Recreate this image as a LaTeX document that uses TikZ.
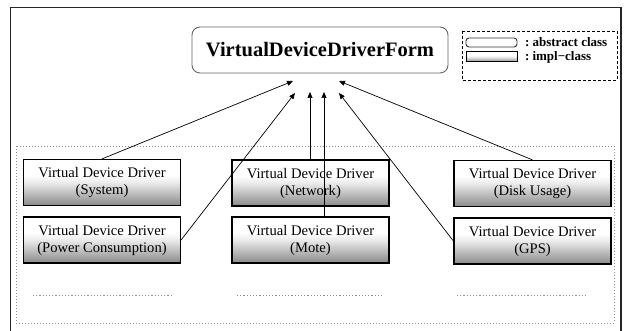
\documentclass[tikz,border=0pt]{standalone}
\usepackage{fontspec}
\setmainfont{Liberation Serif}
\usetikzlibrary{arrows.meta,calc}
\pgfdeclareverticalshading{implshade}{100bp}{color(0bp)=(black!52); color(25bp)=(black!46); color(50bp)=(black!8); color(58bp)=(white); color(100bp)=(white)}
\begin{document}
\begin{tikzpicture}[x=1pt,y=-1pt,
  frame/.style={line width=1.3pt,black!85},
  container/.style={draw=black!45,line width=0.8pt,dash pattern=on 1pt off 2pt},
  filler/.style={draw=black!45,line width=0.8pt,dash pattern=on 1.2pt off 2pt},
  formbox/.style={draw=black!60,line width=0.9pt,rounded corners=8pt,fill=white,
    minimum width=256pt,minimum height=46pt,inner sep=0pt,
    font=\fontsize{20.5}{24}\selectfont\bfseries},
  implbox/.style={draw=black,line width=1.2pt,shading=implshade,
    minimum width=157pt,minimum height=46pt,inner sep=0pt,align=center,
    font=\fontsize{14.6}{17}\selectfont},
  legabs/.style={draw=black!80,line width=0.9pt,rounded corners=3pt,fill=white,
    minimum width=51pt,minimum height=9pt,inner sep=0pt},
  legimpl/.style={draw=black,line width=1pt,shading=implshade,
    minimum width=51pt,minimum height=10pt,inner sep=0pt},
  legtext/.style={anchor=west,inner sep=0pt,font=\fontsize{13}{15}\selectfont\bfseries},
  arr/.style={line width=0.7pt,-{Triangle[length=6pt,width=5pt]}}]
\useasboundingbox (0,0) rectangle (624,331);
\fill[white] (0,0) rectangle (624,331);

% outer frame, open at the bottom
\draw[frame] (10.5,331) -- (10.5,7.5) -- (621,7.5) -- (621,331);

% container of the implementation classes
\draw[container] (16,146) rectangle (614,323);

% abstract class
\node[formbox] (form) at (320,50) {VirtualDeviceDriverForm};

% legend
\draw[line width=0.9pt,dash pattern=on 3pt off 2pt] (462,31) rectangle (617,80);
\node[legabs] (la) at (491.5,42.5) {};
\node[legimpl] (li) at (491.5,57) {};
\node[legtext] (lat) at (525,42.5) {:\hspace{3pt}abstract class};
\node[legtext] (lit) at (525,57) {:\hspace{3pt}impl\textminus class};

% implementation classes
\node[implbox] (sys)  at (102,182.5)   {Virtual Device Driver\\(System)};
\node[implbox] (net)  at (310.5,183)   {Virtual Device Driver\\(Network)};
\node[implbox] (disk) at (532.5,183.5) {Virtual Device Driver\\(Disk Usage)};
\node[implbox] (pow)  at (102,240)     {Virtual Device Driver\\(Power Consumption)};
\node[implbox] (mote) at (310.5,240)   {Virtual Device Driver\\(Mote)};
\node[implbox] (gps)  at (532.5,241)   {Virtual Device Driver\\(GPS)};

% further classes
\draw[filler] (33,295.5) -- (173,295.5);
\draw[filler] (237,295.5) -- (382,295.5);
\draw[filler] (457,295.5) -- (587,295.5);

% arrow tips below the abstract class
\coordinate (t1) at (293,81);
\coordinate (t2) at (339,81);
\coordinate (t3) at (295,93);
\coordinate (t4) at (310,92);
\coordinate (t5) at (324,92);
\coordinate (t6) at (339,93);

% inheritance arrows
\draw[arr] (sys.north) -- (t1);
\draw[arr] (disk.north) -- (t2);
\draw[arr] (pow.east) -- (t3);
\draw[arr] (t4 |- net.north) -- (t4);
\draw[arr] (t5 |- mote.north) -- (t5);
\draw[arr] (gps.west) -- (t6);
\end{tikzpicture}
\end{document}
